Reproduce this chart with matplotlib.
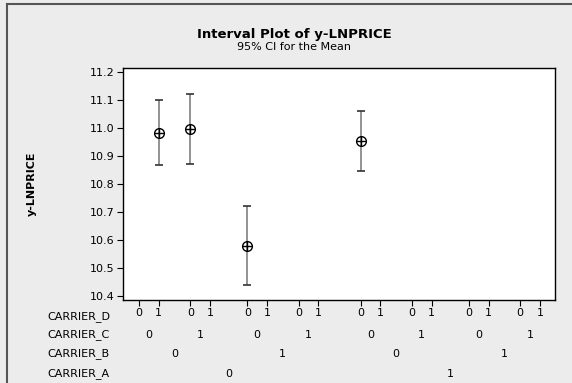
import matplotlib
matplotlib.use('Agg')
import matplotlib.pyplot as plt
import matplotlib.transforms as mtransforms
import numpy as np

# Factor levels for the 16 cells (A slowest, D fastest)
carrier_a = [0]*8 + [1]*8
carrier_b = ([0]*4 + [1]*4) * 2
carrier_c = ([0]*2 + [1]*2) * 4
carrier_d = [0, 1] * 8

# Cells that have data: index into the 16 cells
cell_idx = [1, 2, 4, 8]
means = [10.981, 10.996, 10.578, 10.953]
lower = [10.868, 10.872, 10.440, 10.847]
upper = [11.100, 11.120, 10.720, 11.061]

yticks = [10.4, 10.5, 10.6, 10.7, 10.8, 10.9, 11.0, 11.1, 11.2]

# x positions: wider gaps between higher-level groups (Minitab style)
pos = [0.0]
for i in range(1, 16):
    if carrier_a[i] != carrier_a[i-1]:
        step = 2.15
    elif carrier_b[i] != carrier_b[i-1]:
        step = 1.9
    elif carrier_c[i] != carrier_c[i-1]:
        step = 1.6
    else:
        step = 1.0
    pos.append(pos[-1] + step)
pos = np.array(pos)

W, H = 572, 383
fig = plt.figure(figsize=(W/100, H/100), dpi=100, facecolor='#ececec')
ax = fig.add_axes([122.7/W, 1 - 299.5/H, (555 - 122.7)/W, (299.5 - 68.3)/H])
ax.set_facecolor('white')

x = pos[cell_idx]
m = np.array(means)
ax.errorbar(x, m, yerr=[m - np.array(lower), np.array(upper) - m], fmt='none',
            ecolor='#808080', elinewidth=1.2, capsize=0, zorder=2)
ax.plot(x, lower, ls='none', marker='_', ms=6, mew=1.2, color='#333333', zorder=3)
ax.plot(x, upper, ls='none', marker='_', ms=6, mew=1.2, color='#333333', zorder=3)
ax.plot(x, m, ls='none', marker='o', ms=7, mfc='none', mec='black', mew=1.0, zorder=4)
ax.plot(x, m, ls='none', marker='+', ms=7, mec='black', mew=1.0, zorder=4)

ax.set_xlim(-0.83, 21.12)
ax.set_ylim(10.3875, 11.212)
ax.set_yticks(yticks)
ax.set_yticklabels(['%.1f' % v for v in yticks], fontsize=8)
ax.set_xticks(pos)
ax.set_xticklabels([str(v) for v in carrier_d], fontsize=8)
ax.tick_params(direction='out', length=4, width=0.8, color='black', pad=2)
for s in ax.spines.values():
    s.set_color('black')
    s.set_linewidth(1.0)

# Extra rows of factor labels under the axis
trans = mtransforms.blended_transform_factory(ax.transData, fig.transFigure)
rows = [('CARRIER_C', carrier_c, 2, 334.7),
        ('CARRIER_B', carrier_b, 4, 354.0),
        ('CARRIER_A', carrier_a, 8, 374.0)]
for name, levels, size, ypx in rows:
    for k in range(0, 16, size):
        xc = pos[k:k+size].mean()
        ax.text(xc, 1 - ypx/H, str(levels[k]), transform=trans, fontsize=8,
                ha='center', va='center', clip_on=False)
for name, ypx in [('CARRIER_D', 316.5), ('CARRIER_C', 334.7),
                  ('CARRIER_B', 354.0), ('CARRIER_A', 374.0)]:
    fig.text(110/W, 1 - ypx/H, name, fontsize=8, ha='right', va='center')

fig.text(294/W, 1 - 34.7/H, 'Interval Plot of y-LNPRICE', fontsize=9.5,
         fontweight='bold', ha='center', va='center')
fig.text(294/W, 1 - 46.7/H, '95% CI for the Mean', fontsize=8,
         ha='center', va='center')
fig.text(31.7/W, 1 - 184/H, 'y-LNPRICE', fontsize=8, fontweight='bold',
         rotation=90, ha='center', va='center')

# outer frame (left and top edges visible)
fig.add_artist(plt.Line2D([7/W, 7/W], [0, 1 - 3.7/H], transform=fig.transFigure,
                          color='#555555', lw=1.5))
fig.add_artist(plt.Line2D([7/W, 1], [1 - 3.7/H, 1 - 3.7/H], transform=fig.transFigure,
                          color='#555555', lw=1.5))

fig.savefig('out.png', dpi=100, facecolor=fig.get_facecolor())
